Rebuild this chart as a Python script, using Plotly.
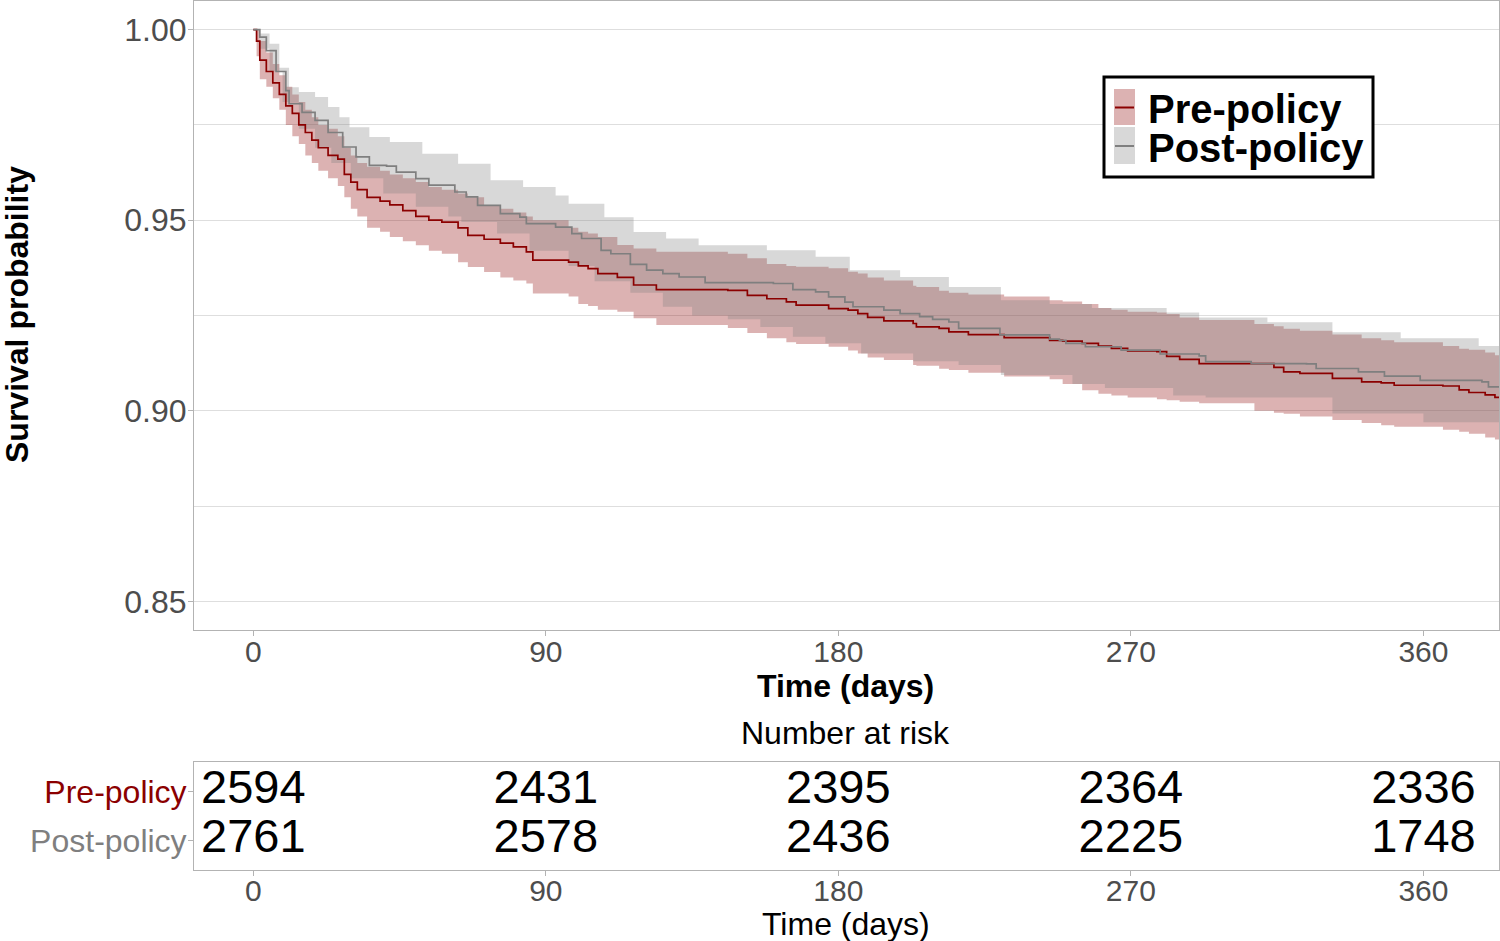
import plotly.graph_objects as go

# ---------------- data ----------------
# Pre-policy Kaplan-Meier estimate with 95% CI (shared time grid)
pre_t = [0, 1, 2, 4, 6, 8, 10, 12, 14, 16, 18, 20, 23, 26, 28, 30, 32, 35, 39, 42,
         46, 50, 54, 58, 63, 66, 71, 76, 80, 84, 86, 97, 100, 103, 106, 112, 117, 124,
         146, 152, 158, 164, 167, 177, 183, 186, 189, 194, 203, 204, 211, 214, 220,
         231, 245, 249, 255, 260, 264, 269, 278, 281, 285, 291, 308, 314, 317, 322,
         332, 341, 347, 351, 366, 371, 374, 379, 382, 386]
pre_surv = [1.000, 0.997, 0.992, 0.989, 0.986, 0.983, 0.980, 0.978, 0.975, 0.973,
            0.971, 0.969, 0.967, 0.966, 0.962, 0.960, 0.958, 0.956, 0.955, 0.954,
            0.9525, 0.951, 0.950, 0.9495, 0.948, 0.946, 0.945, 0.944, 0.943, 0.9417,
            0.9395, 0.939, 0.938, 0.9373, 0.936, 0.935, 0.933, 0.9318,
            0.9316, 0.9303, 0.9294, 0.9286, 0.9277, 0.9268, 0.9264, 0.9255, 0.9245,
            0.9236, 0.9229, 0.922, 0.9216, 0.9207, 0.920,
            0.9192, 0.9185, 0.9183, 0.9177, 0.917, 0.9164, 0.9157, 0.9155, 0.9143,
            0.9135, 0.9124, 0.9124, 0.9114, 0.9102, 0.9098,
            0.9085, 0.9076, 0.9073, 0.9067, 0.9065, 0.9055, 0.9048, 0.9042, 0.9035, 0.9035]
pre_lower = [1.000, 0.993, 0.987, 0.985, 0.982, 0.979, 0.975, 0.972, 0.970, 0.967,
             0.965, 0.963, 0.961, 0.959, 0.956, 0.953, 0.951, 0.948, 0.947, 0.9456,
             0.9445, 0.9434, 0.942, 0.9412, 0.939, 0.9377, 0.9364, 0.935, 0.9342, 0.9334,
             0.9308, 0.930, 0.928, 0.9275, 0.9265, 0.926, 0.9243, 0.9225,
             0.9217, 0.9204, 0.919, 0.918, 0.9175, 0.9168, 0.9158, 0.915, 0.914,
             0.9133, 0.912, 0.9118, 0.911, 0.9107, 0.910,
             0.909, 0.9083, 0.907, 0.9054, 0.9045, 0.904, 0.9035, 0.903, 0.9028,
             0.9024, 0.902, 0.900, 0.8995, 0.8992, 0.8985,
             0.8976, 0.8968, 0.8962, 0.8958, 0.895, 0.8945, 0.894, 0.893, 0.8925, 0.892]
pre_upper = [1.000, 1.000, 0.997, 0.994, 0.991, 0.988, 0.985, 0.983, 0.981, 0.979,
             0.977, 0.975, 0.974, 0.972, 0.969, 0.967, 0.965, 0.964, 0.963, 0.962,
             0.961, 0.960, 0.9587, 0.958, 0.957, 0.956, 0.954, 0.953, 0.952, 0.951,
             0.950, 0.948, 0.947, 0.9465, 0.9456, 0.9435, 0.9426, 0.9417,
             0.9412, 0.940, 0.9385, 0.938, 0.9378, 0.9374, 0.9365, 0.936, 0.935,
             0.9342, 0.9328, 0.9325, 0.9315, 0.931, 0.9305,
             0.930, 0.929, 0.9287, 0.928, 0.927, 0.9265, 0.926, 0.9258, 0.9254,
             0.9245, 0.9238, 0.9228, 0.9222, 0.9215, 0.921,
             0.920, 0.919, 0.9185, 0.918, 0.917, 0.9163, 0.916, 0.9153, 0.9146, 0.9146]

# Post-policy Kaplan-Meier estimate
post_t = [0, 2, 4, 7, 10, 11, 15, 19, 23, 27.5, 31.6, 35.7, 41, 44, 50, 54, 62, 65.5,
          69, 76, 82, 84, 93, 98, 101, 107, 110, 116, 121, 126, 131, 139, 160, 166, 173,
          177, 182, 184.5, 194, 199, 205, 209, 214, 217, 229.7, 245, 248, 250, 256, 267,
          279, 291, 293, 307, 324, 327, 340, 348, 359, 378, 380, 386]
post_surv = [1.000, 0.998, 0.9945, 0.989, 0.984, 0.9806, 0.9783, 0.9762, 0.973, 0.9692,
             0.9666, 0.9644, 0.9642, 0.9626, 0.9609, 0.9592, 0.9574, 0.9561,
             0.9539, 0.9517, 0.9508, 0.9491, 0.9482, 0.9465, 0.9452, 0.9421, 0.9412,
             0.9384, 0.9369, 0.936, 0.9351, 0.9336, 0.9334, 0.9318, 0.9312,
             0.9299, 0.9285, 0.9273, 0.9264, 0.9255, 0.9247, 0.924, 0.9233, 0.9216,
             0.9199, 0.9188, 0.9185, 0.9177, 0.9168, 0.9159,
             0.9149, 0.9144, 0.9129, 0.9124, 0.9123, 0.9111, 0.9102, 0.9091, 0.908,
             0.9076, 0.9063, 0.906]
post_hi_t = [0, 2, 5, 8, 11, 14, 19, 23, 26.5, 29.6, 35.7, 42, 52, 63, 73, 83, 93, 97,
             108, 117, 127, 137, 158, 173, 183.5, 199, 214, 230, 245, 258, 281, 291,
             312, 332, 353, 377, 386]
post_upper = [1.000, 0.999, 0.9963, 0.990, 0.9849, 0.9836, 0.9823, 0.9797, 0.977,
              0.9744, 0.9718, 0.9705, 0.9674, 0.9648, 0.9605, 0.9587, 0.9565, 0.9543,
              0.9508, 0.9469, 0.9452, 0.9434, 0.9421, 0.9404, 0.9369, 0.9351, 0.9325,
              0.929, 0.928, 0.927, 0.9258, 0.9245, 0.9232, 0.9206, 0.919, 0.917, 0.9158]
post_lo_t = [0, 2, 5, 9, 14, 19, 24, 30, 40, 50, 60, 64, 75, 85, 97, 105, 116, 126,
             135, 146, 156, 166, 176, 187, 203, 217, 230, 252, 262, 283, 293, 332, 360, 386]
post_lower = [1.000, 0.995, 0.989, 0.981, 0.974, 0.969, 0.965, 0.961, 0.957, 0.9535,
              0.951, 0.9495, 0.9465, 0.942, 0.938, 0.934, 0.931, 0.9273,
              0.925, 0.924, 0.922, 0.9194, 0.9177, 0.915, 0.913, 0.912, 0.9094, 0.907,
              0.906, 0.904, 0.9035, 0.8993, 0.897, 0.895]

# Number-at-risk table
risk_times = [0, 90, 180, 270, 360]
risk_pre = [2594, 2431, 2395, 2364, 2336]
risk_post = [2761, 2578, 2436, 2225, 1748]
group_names = ["Pre-policy", "Post-policy"]

x_ticks = [0, 90, 180, 270, 360]
y_ticks = [0.85, 0.90, 0.95, 1.00]
y_ticktext = ["0.85", "0.90", "0.95", "1.00"]

# ---------------- styling ----------------
W, H = 1500, 941
RED = "#8B0000"
GREY = "#7F7F7F"
RED_FILL = "rgba(139,0,0,0.3)"
GREY_FILL = "rgba(127,127,127,0.3)"
BORDER = "#B3B3B3"
GRID = "#DEDEDE"
TICKCOL = "#4D4D4D"
FONT = "Liberation Sans, Arial, sans-serif"


def px(x):
    return x / W


def py(y):
    return 1 - y / H


fig = go.Figure()

# confidence bands
fig.add_trace(go.Scatter(x=pre_t, y=pre_lower, mode="lines", line=dict(width=0, shape="hv"),
                         showlegend=False, hoverinfo="skip"))
fig.add_trace(go.Scatter(x=pre_t, y=pre_upper, mode="lines", line=dict(width=0, shape="hv"),
                         fill="tonexty", fillcolor=RED_FILL, showlegend=False, hoverinfo="skip"))
fig.add_trace(go.Scatter(x=post_lo_t, y=post_lower, mode="lines", line=dict(width=0, shape="hv"),
                         showlegend=False, hoverinfo="skip"))
fig.add_trace(go.Scatter(x=post_hi_t, y=post_upper, mode="lines", line=dict(width=0, shape="hv"),
                         fill="tonexty", fillcolor=GREY_FILL, showlegend=False, hoverinfo="skip"))
# survival curves
fig.add_trace(go.Scatter(x=pre_t, y=pre_surv, mode="lines", line=dict(color=RED, width=1.7, shape="hv"),
                         name=group_names[0], showlegend=False))
fig.add_trace(go.Scatter(x=post_t, y=post_surv, mode="lines", line=dict(color=GREY, width=1.7, shape="hv"),
                         name=group_names[1], showlegend=False))

# risk table numbers
fig.add_trace(go.Scatter(x=risk_times, y=[2] * len(risk_times), mode="text",
                         text=[str(v) for v in risk_pre], textfont=dict(size=47, color="black", family=FONT),
                         xaxis="x2", yaxis="y2", showlegend=False, hoverinfo="skip"))
fig.add_trace(go.Scatter(x=risk_times, y=[1] * len(risk_times), mode="text",
                         text=[str(v) for v in risk_post], textfont=dict(size=47, color="black", family=FONT),
                         xaxis="x2", yaxis="y2", showlegend=False, hoverinfo="skip"))

xdom = [px(194), px(1499)]
xrange = [-18.25, 383.25]

fig.update_layout(
    width=W, height=H,
    margin=dict(l=0, r=0, t=0, b=0),
    paper_bgcolor="white", plot_bgcolor="white",
    font=dict(family=FONT, color="black"),
    xaxis=dict(domain=xdom, range=xrange, anchor="y", tickvals=x_ticks,
               ticks="outside", ticklen=5, tickcolor=BORDER, tickwidth=1,
               ticklabelstandoff=-10,
               tickfont=dict(size=30, color=TICKCOL, family=FONT),
               showgrid=False, zeroline=False, showline=True, linecolor=BORDER,
               linewidth=1, mirror=True),
    yaxis=dict(domain=[py(630), py(1)], range=[0.8425, 1.0075], anchor="x",
               tickvals=y_ticks, ticktext=y_ticktext,
               ticks="outside", ticklen=5, tickcolor=BORDER, tickwidth=1,
               ticklabelstandoff=-5,
               tickfont=dict(size=32, color=TICKCOL, family=FONT),
               showgrid=True, gridcolor=GRID, gridwidth=1, zeroline=False,
               showline=True, linecolor=BORDER, linewidth=1, mirror=True,
               minor=dict(tick0=0.825, dtick=0.025, showgrid=True, gridcolor=GRID,
                          gridwidth=1, ticks="")),
    xaxis2=dict(domain=xdom, range=xrange, anchor="y2", tickvals=x_ticks,
                ticks="outside", ticklen=5, tickcolor=BORDER, tickwidth=1,
                ticklabelstandoff=-11,
                tickfont=dict(size=30, color=TICKCOL, family=FONT),
                showgrid=False, zeroline=False, showline=True, linecolor=BORDER,
                linewidth=1, mirror=True),
    yaxis2=dict(domain=[py(870), py(762)], range=[0.4, 2.6], anchor="x2",
                tickvals=[2, 1],
                ticktext=[f'<span style="color:{RED}">{group_names[0]}</span>',
                          f'<span style="color:{GREY}">{group_names[1]}</span>'],
                ticks="outside", ticklen=5, tickcolor=BORDER, tickwidth=1,
                ticklabelstandoff=-5,
                tickfont=dict(size=32, family=FONT),
                showgrid=False, zeroline=False, showline=True, linecolor=BORDER,
                linewidth=1, mirror=True),
)

annotations = [
    dict(text="<b>Survival probability</b>", x=px(17), y=py(315), xref="paper", yref="paper",
         textangle=-90, showarrow=False, font=dict(size=32, color="black", family=FONT),
         xanchor="center", yanchor="middle"),
    dict(text="<b>Time (days)</b>", x=px(846), y=py(686), xref="paper", yref="paper",
         showarrow=False, font=dict(size=32, color="black", family=FONT),
         xanchor="center", yanchor="middle"),
    dict(text="Number at risk", x=px(846), y=py(733), xref="paper", yref="paper",
         showarrow=False, font=dict(size=32, color="black", family=FONT),
         xanchor="center", yanchor="middle"),
    dict(text="Time (days)", x=px(846), y=py(924), xref="paper", yref="paper",
         showarrow=False, font=dict(size=32, color="black", family=FONT),
         xanchor="center", yanchor="middle"),
    dict(text="<b>Pre-policy</b>", x=px(1146), y=py(109), xref="paper", yref="paper",
         showarrow=False, font=dict(size=40, color="black", family=FONT),
         xanchor="left", yanchor="middle"),
    dict(text="<b>Post-policy</b>", x=px(1146), y=py(148), xref="paper", yref="paper",
         showarrow=False, font=dict(size=40, color="black", family=FONT),
         xanchor="left", yanchor="middle"),
]

shapes = [
    dict(type="rect", xref="paper", yref="paper", x0=px(1104), x1=px(1373), y0=py(177), y1=py(77),
         line=dict(color="black", width=3), fillcolor="white", layer="above"),
    dict(type="rect", xref="paper", yref="paper", x0=px(1114), x1=px(1135), y0=py(125), y1=py(89),
         line=dict(width=0), fillcolor=RED_FILL, layer="above"),
    dict(type="rect", xref="paper", yref="paper", x0=px(1114), x1=px(1135), y0=py(164), y1=py(127),
         line=dict(width=0), fillcolor=GREY_FILL, layer="above"),
    dict(type="line", xref="paper", yref="paper", x0=px(1115), x1=px(1134), y0=py(107.5), y1=py(107.5),
         line=dict(color=RED, width=2), layer="above"),
    dict(type="line", xref="paper", yref="paper", x0=px(1115), x1=px(1134), y0=py(146), y1=py(146),
         line=dict(color=GREY, width=2), layer="above"),
]

fig.update_layout(annotations=annotations, shapes=shapes)

fig.write_html("out.html", config={"displayModeBar": False},
               post_script="document.body.style.margin='0';")
